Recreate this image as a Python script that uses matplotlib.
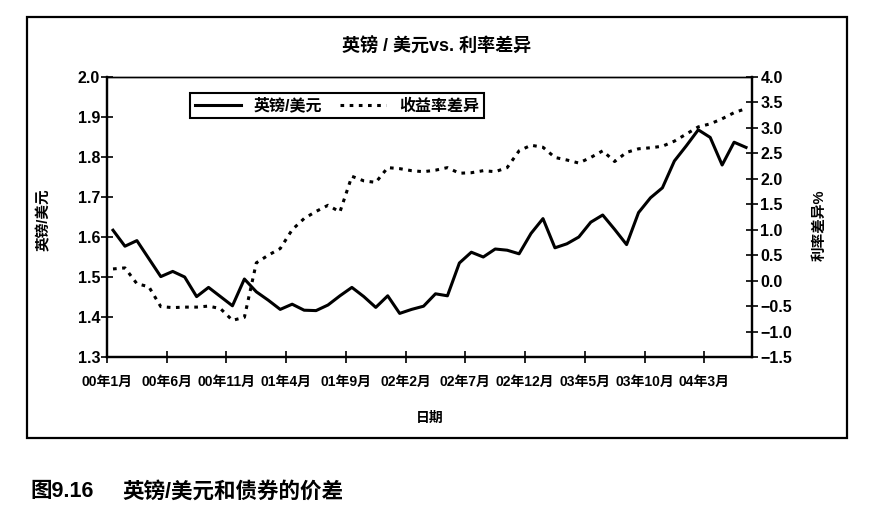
import numpy as np
import matplotlib
matplotlib.use("Agg")
import matplotlib.pyplot as plt
from matplotlib.patches import Rectangle

plt.rcParams['font.family'] = ['Liberation Sans', 'Noto Sans CJK SC']
plt.rcParams['font.weight'] = 'bold'
plt.rcParams['axes.unicode_minus'] = True

# ---- data (monthly, 2000-01 .. 2004-06) ----
gbp_usd = [1.617, 1.577, 1.591, 1.546, 1.501, 1.514, 1.500, 1.451, 1.474, 1.451,
           1.428, 1.495, 1.463, 1.442, 1.419, 1.432, 1.417, 1.416, 1.430, 1.453,
           1.474, 1.451, 1.424, 1.453, 1.409, 1.419, 1.427, 1.458, 1.453, 1.535,
           1.562, 1.550, 1.570, 1.567, 1.558, 1.609, 1.646, 1.573, 1.583, 1.600,
           1.637, 1.655, 1.619, 1.581, 1.661, 1.698, 1.723, 1.790, 1.828, 1.868,
           1.849, 1.780, 1.837, 1.824]
yield_spread = [0.23, 0.25, -0.06, -0.12, -0.51, -0.53, -0.52, -0.52, -0.50, -0.55,
                -0.78, -0.72, 0.35, 0.50, 0.63, 1.00, 1.22, 1.36, 1.48, 1.35,
                2.05, 1.96, 1.93, 2.22, 2.20, 2.16, 2.14, 2.17, 2.22, 2.11,
                2.12, 2.16, 2.14, 2.22, 2.55, 2.66, 2.62, 2.42, 2.37, 2.31,
                2.42, 2.55, 2.34, 2.52, 2.59, 2.61, 2.64, 2.74, 2.88, 3.02,
                3.08, 3.18, 3.30, 3.38]
x_labels = ['00年1月', '00年6月', '00年11月', '01年4月', '01年9月', '02年2月',
            '02年7月', '02年12月', '03年5月', '03年10月', '04年3月']
label_step = 5
left_ticks = [1.3, 1.4, 1.5, 1.6, 1.7, 1.8, 1.9, 2.0]
right_ticks = [-1.5, -1.0, -0.5, 0.0, 0.5, 1.0, 1.5, 2.0, 2.5, 3.0, 3.5, 4.0]

title = '英镑 / 美元vs. 利率差异'
series_names = ['英镑/美元', '收益率差异']
left_label = '英镑/美元'
right_label = '利率差异%'
x_title = '日期'
caption_num = '图9.16'
caption_text = '英镑/美元和债券的价差'

# ---- figure ----
fig = plt.figure(figsize=(8.73, 5.25), dpi=100)
fig.patches.append(Rectangle((0.0309, 0.1657), 0.9393, 0.8019, transform=fig.transFigure,
                             fill=False, lw=1.6, ec='black'))

ax = fig.add_axes([0.1226, 0.32, 0.7388, 0.5333])
ax2 = ax.twinx()

n = len(gbp_usd)
x = np.arange(n)
l1, = ax.plot(x, gbp_usd, color='black', lw=2.2, solid_joinstyle='round')
l2, = ax2.plot(x, yield_spread, color='black', lw=2.2, linestyle=(0, (1.2, 1.8)),
               dash_capstyle='butt')

ax.set_xlim(-0.5, n - 0.5)
ax.set_ylim(left_ticks[0], left_ticks[-1])
ax2.set_ylim(right_ticks[0], right_ticks[-1])

tick_pos = np.arange(len(x_labels)) * label_step - 0.5
ax.set_xticks(tick_pos)
ax.set_xticklabels(x_labels, fontsize=10, fontweight='bold')
ax.set_yticks(left_ticks)
ax.set_yticklabels([f'{v:.1f}' for v in left_ticks], fontsize=11.5, fontweight='bold')
ax2.set_yticks(right_ticks)
ax2.set_yticklabels([f'{v:.1f}'.replace('-', '\u2212') for v in right_ticks],
                    fontsize=11.5, fontweight='bold')

ax.tick_params(axis='x', direction='inout', length=8, width=1.2, pad=9)
ax.tick_params(axis='y', direction='inout', length=8, width=1.2, pad=1)
ax2.tick_params(axis='y', direction='inout', length=8, width=1.2, pad=2)

for a in (ax, ax2):
    for s in ('left', 'right', 'bottom'):
        a.spines[s].set_linewidth(1.6)
    a.spines['top'].set_linewidth(1.0)

leg = ax2.legend([l1, l2], series_names, loc='upper left', bbox_to_anchor=(0.1287, 0.943),
                 ncol=2, frameon=True, fancybox=False, edgecolor='black', framealpha=1,
                 borderaxespad=0, handlelength=2.9, columnspacing=1.1,
                 prop={'size': 11.5, 'weight': 'bold'}, borderpad=0.3)
leg.get_frame().set_linewidth(1.5)

fig.text(0.5006, 0.9105, title, ha='center', va='center', fontsize=13, fontweight='bold')
fig.text(0.0505, 0.581, left_label, ha='center', va='center', rotation=90,
         fontsize=10.5, fontweight='bold')
fig.text(0.939, 0.571, right_label, ha='center', va='center', rotation=90,
         fontsize=10.5, fontweight='bold')
fig.text(0.4926, 0.2038, x_title, ha='center', va='center', fontsize=10, fontweight='bold')
fig.text(0.0344, 0.0629, caption_num, ha='left', va='center', fontsize=15.5, fontweight='bold')
fig.text(0.1398, 0.0629, caption_text, ha='left', va='center', fontsize=15.5, fontweight='bold')

fig.savefig('out.png', dpi=100)
